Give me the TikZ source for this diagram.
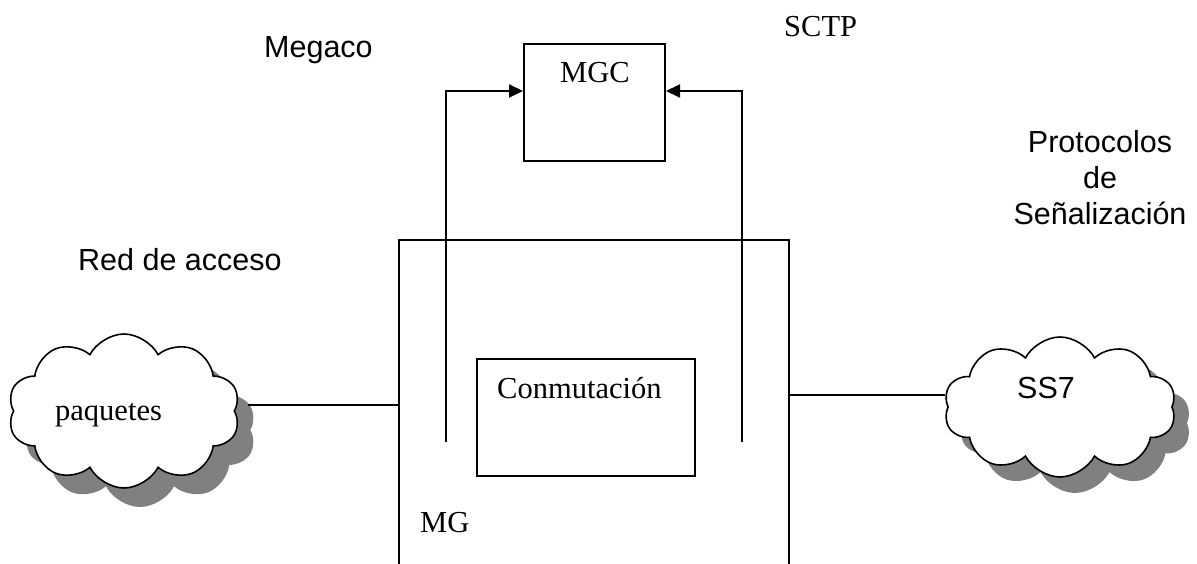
\documentclass[tikz,border=0pt]{standalone}
\usepackage{fontspec}
\setmainfont{Liberation Serif}
\setsansfont{Liberation Sans}
\usetikzlibrary{shapes.symbols,arrows.meta}
\definecolor{shadowgray}{RGB}{128,128,128}
\tikzset{
  every picture/.style={x=1pt,y=-1pt},
  ln/.style={line width=2pt},
  sanslabel/.style={inner sep=0pt,font=\sffamily\fontsize{30.5}{36}\selectfont},
  seriflabel/.style={inner sep=0pt,font=\rmfamily\fontsize{30.5}{36}\selectfont},
  boxnode/.style={draw,line width=2pt,rectangle,inner sep=0pt},
  cloudbase/.style={cloud,cloud puffs=10,cloud puff arc=125,cloud ignores aspect,inner sep=0pt},
  cloudshadow/.style={cloudbase,fill=shadowgray,draw=none},
  cloudmain/.style={cloudbase,fill=white,draw=black,line width=1.6pt},
  arr/.style={ln,-{Triangle[length=14pt,width=13pt]}}
}
\begin{document}
\begin{tikzpicture}
\useasboundingbox (0,0) rectangle (1197,564);
% boxes
\node[boxnode,minimum width=141pt,minimum height=117pt] (mgc) at (594.5,102.5) {};
\node[boxnode,minimum width=218pt,minimum height=117pt] (conm) at (586,417.5) {};
\node[inner sep=0pt,minimum width=390pt,minimum height=324pt] (mg) at (594,402) {};
\draw[ln] (mg.south west) -- (mg.north west) -- (mg.north east) -- (mg.south east);
% clouds
\node[cloudshadow,minimum width=232pt,minimum height=154pt] (paqs) at (140,430) {};
\node[cloudmain,minimum width=232pt,minimum height=154pt] (paq) at (124,411) {};
\node[cloudshadow,minimum width=232pt,minimum height=140pt] (ss7s) at (1075,423) {};
\node[cloudmain,minimum width=232pt,minimum height=140pt] (ss7) at (1060,407) {};
% texts
\node[sanslabel,anchor=base west] (tmegaco) at (264,58) {Megaco};
\node[seriflabel,anchor=base west] (tsctp) at (784,37) {SCTP};
\node[sanslabel,anchor=base] (tprot1) at (1100,153) {Protocolos};
\node[sanslabel,anchor=base] (tprot2) at (1100,189) {de};
\node[sanslabel,anchor=base] (tprot3) at (1100,225) {Señalización};
\node[sanslabel,anchor=base west] (tred) at (78,270) {Red de acceso};
\node[seriflabel,anchor=base west] (tpaq) at (55,420) {paquetes};
\node[sanslabel,anchor=base west] (tss7) at (1017,398) {SS7};
\node[seriflabel,anchor=base west] (tmgc) at (560,83) {MGC};
\node[seriflabel,anchor=base west] (tconm) at (497,398) {Conmutación};
\node[seriflabel,anchor=base west] (tmg) at (420,532) {MG};
% connectors
\coordinate (lb) at (446,442);
\coordinate (rb) at (742,442);
\draw[arr] (lb) |- (mgc.west |- 0,91);
\draw[arr] (rb) |- (mgc.east |- 0,91);
\coordinate (pl) at (248,405);
\draw[ln] (pl) -- (pl -| mg.west);
\coordinate (sl) at (945,395);
\draw[ln] (sl -| mg.east) -- (sl);
\end{tikzpicture}
\end{document}
